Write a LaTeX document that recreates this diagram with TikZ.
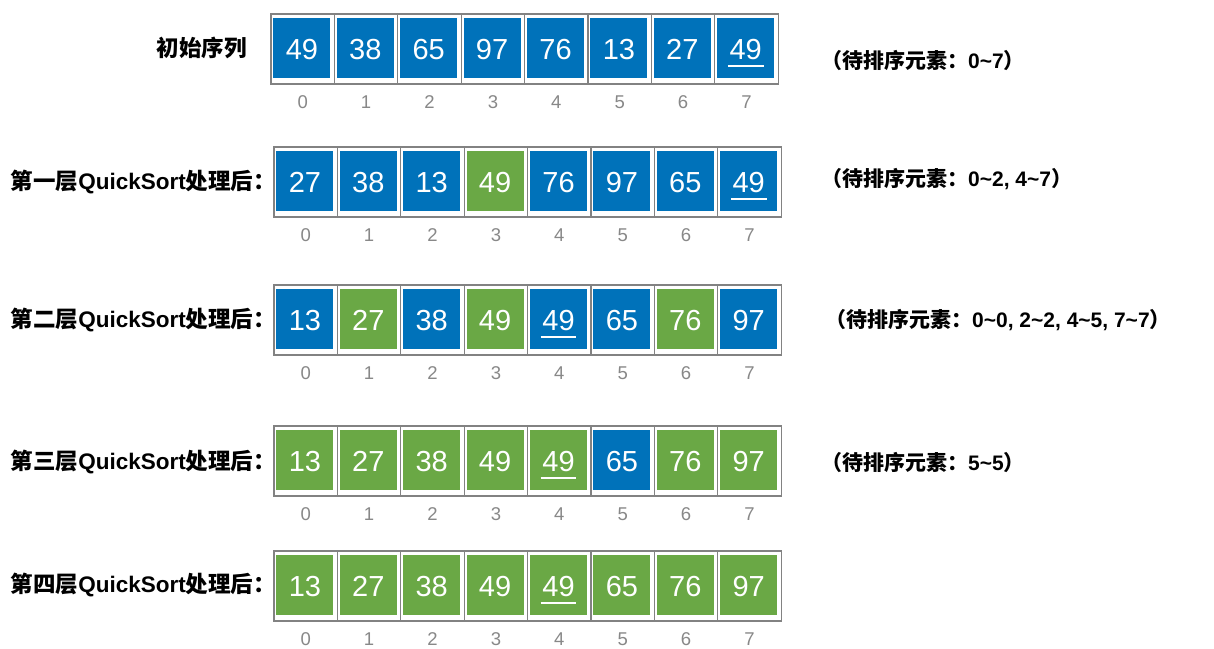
\documentclass[tikz,border=0pt]{standalone}
\usepackage{fontspec}
\setmainfont{Liberation Sans}
\newfontfamily\cjk{Noto Sans CJK SC}
\newcommand\zh[1]{{\cjk\bfseries #1}}
\definecolor{qblue}{RGB}{0,114,186}
\definecolor{qgreen}{RGB}{106,168,69}
\definecolor{qframe}{RGB}{130,130,130}
\definecolor{qidx}{RGB}{136,136,136}
\tikzset{
  cellframe/.style={draw=qframe, line width=1.1pt, minimum width=63.4pt, minimum height=70pt, inner sep=0pt, outer sep=0pt, anchor=north west},
  cellfill/.style={fill=#1, minimum width=57pt, minimum height=60.5pt, inner sep=0pt, outer sep=0pt, anchor=north west},
  numtext/.style={text=white, font=\fontsize{29}{32}\selectfont, inner sep=0pt, text height=21pt, text depth=0pt},
  idxtext/.style={text=qidx, font=\fontsize{18.5}{20}\selectfont, inner sep=0pt, text height=13.3pt, text depth=0pt},
  rowlabel/.style={font=\fontsize{22.5}{26}\selectfont\bfseries, anchor=east, inner sep=0pt},
  pending/.style={font=\fontsize{21}{25}\selectfont\bfseries, anchor=west, inner sep=0pt},
}
\newcommand\qrow[4]{%
  \foreach \v/\c/\u [count=\i from 0] in {#4} {
    \pgfmathsetmacro\xx{#2+\i*63.4}
    \node[cellframe] (f#1\i) at (\xx,#3) {};
    \node[cellfill=\c] (c#1\i) at (\xx+2.4,#3+3.6) {};
    \node[numtext] (n#1\i) at ([yshift=-1pt]c#1\i.center) {\v};
    \ifnum\u=1 \draw[white,line width=1.5pt] ([shift={(-1.5pt,-6.5pt)}]n#1\i.base west) -- ([shift={(1.5pt,-6.5pt)}]n#1\i.base east); \fi
    \node[idxtext] (i#1\i) at (\xx+31.7,#3+87.7) {\i};
  }}
\begin{document}
\begin{tikzpicture}[x=1pt,y=-1pt]
\useasboundingbox[fill=white] (0,0) rectangle (1214,648);
\qrow{a}{271}{14}{49/qblue/0, 38/qblue/0, 65/qblue/0, 97/qblue/0, 76/qblue/0, 13/qblue/0, 27/qblue/0, 49/qblue/1}
\qrow{b}{274}{147}{27/qblue/0, 38/qblue/0, 13/qblue/0, 49/qgreen/0, 76/qblue/0, 97/qblue/0, 65/qblue/0, 49/qblue/1}
\qrow{c}{274}{285}{13/qblue/0, 27/qgreen/0, 38/qblue/0, 49/qgreen/0, 49/qblue/1, 65/qblue/0, 76/qgreen/0, 97/qblue/0}
\qrow{d}{274}{426}{13/qgreen/0, 27/qgreen/0, 38/qgreen/0, 49/qgreen/0, 49/qgreen/1, 65/qblue/0, 76/qgreen/0, 97/qgreen/0}
\qrow{e}{274}{551}{13/qgreen/0, 27/qgreen/0, 38/qgreen/0, 49/qgreen/0, 49/qgreen/1, 65/qgreen/0, 76/qgreen/0, 97/qgreen/0}

\node[rowlabel] (la) at (247,48) {\zh{初始序列}};
\node[rowlabel] (lb) at (276,182) {\zh{第一层}QuickSort\zh{处理后：}};
\node[rowlabel] (lc) at (276,320) {\zh{第二层}QuickSort\zh{处理后：}};
\node[rowlabel] (ld) at (276,462) {\zh{第三层}QuickSort\zh{处理后：}};
\node[rowlabel] (le) at (276,585) {\zh{第四层}QuickSort\zh{处理后：}};

\node[pending] (pa) at (821,60) {\zh{（待排序元素：}0\textasciitilde 7\zh{）}};
\node[pending] (pb) at (821,179) {\zh{（待排序元素：}0\textasciitilde 2, 4\textasciitilde 7\zh{）}};
\node[pending] (pc) at (825,320) {\zh{（待排序元素：}0\textasciitilde 0, 2\textasciitilde 2, 4\textasciitilde 5, 7\textasciitilde 7\zh{）}};
\node[pending] (pd) at (821,462) {\zh{（待排序元素：}5\textasciitilde 5\zh{）}};
\end{tikzpicture}
\end{document}
